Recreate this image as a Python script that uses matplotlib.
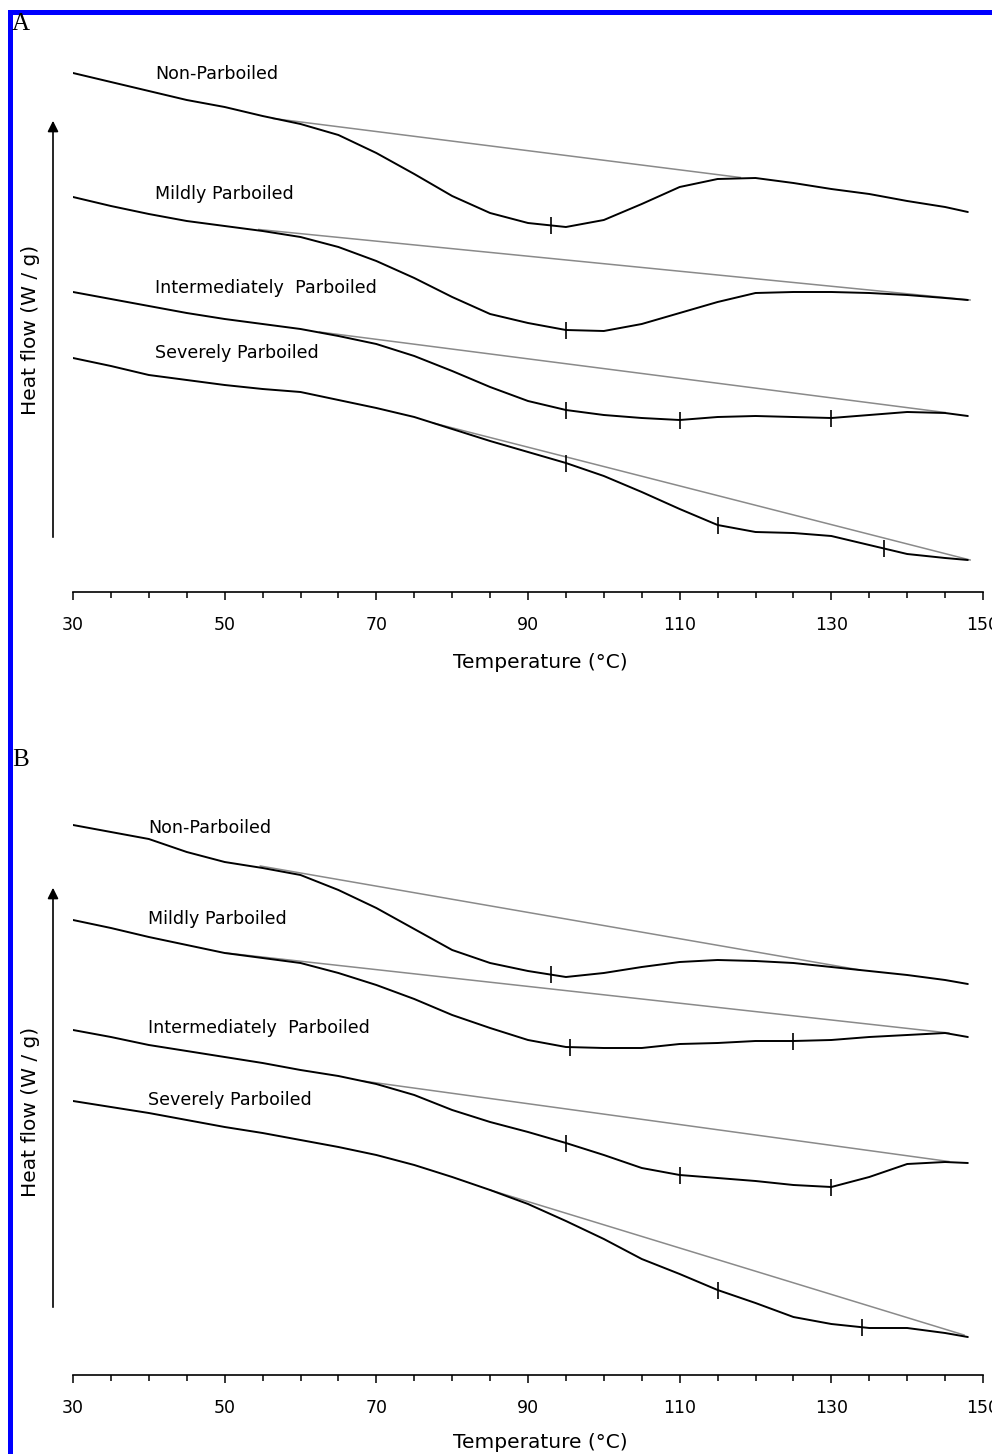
import numpy as np
import matplotlib
matplotlib.use("Agg")
import matplotlib.pyplot as plt
from matplotlib.patches import Rectangle, FancyArrowPatch

# ---------------- data (heat flow in arbitrary units, offset per trace) -------------
temps = [30, 35, 40, 45, 50, 55, 60, 65, 70, 75, 80, 85, 90, 95, 100, 105, 110,
         115, 120, 125, 130, 135, 140, 145, 148]

names = ["Non-Parboiled", "Mildly Parboiled", "Intermediately  Parboiled",
         "Severely Parboiled"]

# Panel A
a_non = [5.19, 5.10, 5.01, 4.92, 4.85, 4.76, 4.68, 4.57, 4.39, 4.18, 3.96, 3.79, 3.69,
         3.65, 3.72, 3.88, 4.05, 4.13, 4.14, 4.09, 4.03, 3.98, 3.91, 3.85, 3.80]
a_mild = [3.95, 3.86, 3.78, 3.71, 3.66, 3.61, 3.55, 3.45, 3.31, 3.14, 2.95, 2.78, 2.69,
          2.62, 2.61, 2.68, 2.79, 2.90, 2.99, 3.00, 3.00, 2.99, 2.97, 2.94, 2.92]
a_inter = [3.00, 2.93, 2.86, 2.79, 2.73, 2.68, 2.63, 2.56, 2.48, 2.36, 2.21, 2.05, 1.91,
           1.82, 1.77, 1.74, 1.72, 1.75, 1.76, 1.75, 1.74, 1.77, 1.80, 1.79, 1.76]
a_sev = [2.34, 2.26, 2.17, 2.12, 2.07, 2.03, 2.00, 1.92, 1.84, 1.75, 1.63, 1.51, 1.40,
         1.29, 1.16, 1.00, 0.83, 0.67, 0.60, 0.59, 0.56, 0.47, 0.38, 0.34, 0.32]
a_base_t = [(56.4, 118.0), (54.5, 148.3), (62.5, 145.0), (77.5, 148.3)]
a_base_v = [(4.735, 4.145), (3.625, 2.92), (2.60, 1.795), (1.69, 0.32)]
a_peaks = [[93], [95], [95, 110, 130], [95, 115, 137]]

# Panel B
b_non = [5.50, 5.43, 5.36, 5.23, 5.13, 5.07, 5.00, 4.85, 4.67, 4.46, 4.25, 4.12, 4.04,
         3.98, 4.02, 4.08, 4.13, 4.15, 4.14, 4.12, 4.08, 4.04, 4.00, 3.95, 3.91]
b_mild = [4.55, 4.47, 4.38, 4.30, 4.22, 4.17, 4.12, 4.02, 3.90, 3.76, 3.60, 3.47, 3.35,
          3.28, 3.27, 3.27, 3.31, 3.32, 3.34, 3.34, 3.35, 3.38, 3.40, 3.42, 3.38]
b_inter = [3.45, 3.38, 3.30, 3.24, 3.18, 3.12, 3.05, 2.99, 2.91, 2.80, 2.65, 2.53, 2.43,
           2.32, 2.20, 2.07, 2.00, 1.97, 1.94, 1.90, 1.88, 1.98, 2.11, 2.13, 2.12]
b_sev = [2.74, 2.68, 2.62, 2.55, 2.48, 2.42, 2.35, 2.28, 2.20, 2.10, 1.98, 1.85, 1.71,
         1.54, 1.36, 1.16, 1.01, 0.85, 0.72, 0.58, 0.51, 0.47, 0.47, 0.42, 0.38]
b_base_t = [(54.7, 133.8), (50.2, 145.5), (68.2, 145.5), (85.0, 147.5)]
b_base_v = [(5.09, 4.05), (4.22, 3.42), (2.94, 2.135), (1.85, 0.40)]
b_peaks = [[93], [95.5, 125], [95, 110, 130], [115, 134]]

major_ticks = [30, 50, 70, 90, 110, 130, 150]
minor_ticks = list(range(30, 151, 5))

# ---------------- figure ----------------
W, H = 992, 1454
fig = plt.figure(figsize=(W / 100, H / 100), dpi=100)
FONT = "DejaVu Sans"


def fx(px):
    return px / W


def fy(py):
    return 1 - py / H


def panel(axis_py, curves, base_t, base_v, peaks, label_t, label_v):
    ax = fig.add_axes([fx(73), fy(axis_py), fx(983) - fx(73), 560 / H])
    ax.set_xlim(30, 150)
    ax.set_ylim(0, 5.6)
    for s in ["left", "right", "top"]:
        ax.spines[s].set_visible(False)
    ax.spines["bottom"].set_linewidth(1.2)
    ax.set_yticks([])
    ax.set_xticks(major_ticks)
    ax.set_xticks(minor_ticks, minor=True)
    ax.tick_params(axis="x", which="major", direction="out", length=5.5, width=1.1,
                   pad=12, labelsize=12.5)
    ax.tick_params(axis="x", which="minor", direction="out", length=4.5, width=1.1)
    for lab in ax.get_xticklabels():
        lab.set_family(FONT)
    for i, y in enumerate(curves):
        (t0, t1), (v0, v1) = base_t[i], base_v[i]
        ax.plot([t0, t1], [v0, v1], color="#8a8a8a", lw=1.1, zorder=2)
        ax.plot(temps, y, color="black", lw=1.4, zorder=3,
                solid_joinstyle="round", solid_capstyle="round")
        for p in peaks[i]:
            v = np.interp(p, temps, y)
            ax.vlines(p, v - 0.085, v + 0.085, color="black", lw=1.2, zorder=4)
        ax.text(label_t, label_v[i], names[i], fontsize=12.6, family=FONT,
                ha="left", va="center")
    return ax


panel(592, [a_non, a_mild, a_inter, a_sev], a_base_t, a_base_v, a_peaks,
      40.8, [5.18, 3.98, 3.04, 2.39])
panel(1375, [b_non, b_mild, b_inter, b_sev], b_base_t, b_base_v, b_peaks,
      39.9, [5.47, 4.56, 3.47, 2.75])

for (y0, y1, ylab, xl, letter, ly) in [(540, 118, 330, 662, "A", 24),
                                       (1310, 885, 1112, 1443, "B", 760)]:
    fig.add_artist(FancyArrowPatch((fx(53), fy(y0)), (fx(53), fy(y1)),
                                   transform=fig.transFigure, arrowstyle="-|>",
                                   mutation_scale=16, lw=1.2, color="black"))
    fig.text(fx(31), fy(ylab), "Heat flow (W / g)", rotation=90, ha="center",
             va="center", fontsize=14.5, family=FONT)
    fig.text(fx(540), fy(xl), "Temperature (°C)", ha="center", va="center",
             fontsize=14.5, family=FONT)
    fig.text(fx(12), fy(ly), letter, ha="left", va="center", fontsize=18,
             family="Liberation Serif")

# blue frame (left and top edges)
fig.add_artist(Rectangle((fx(8), 0), fx(13) - fx(8), fy(10), transform=fig.transFigure,
                         color="#0000ff", lw=0))
fig.add_artist(Rectangle((fx(8), fy(15)), 1 - fx(8), fy(10) - fy(15),
                         transform=fig.transFigure, color="#0000ff", lw=0))

fig.savefig("out.png", dpi=100)
